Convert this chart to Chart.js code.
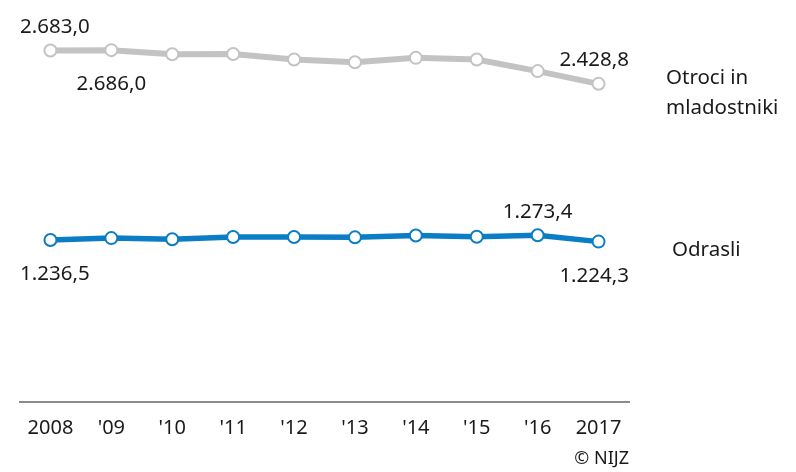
<!DOCTYPE html>
<html>
<head>
<meta charset="utf-8">
<script src="https://cdn.jsdelivr.net/npm/chart.js@4"></script>
<style>
  html, body { margin: 0; padding: 0; background: #fff; }
  #wrap { width: 796px; height: 472px; position: relative; }
</style>
</head>
<body>
<div id="wrap"><canvas id="graph" width="796" height="472"></canvas></div>
<script>
// Data
const years = ['2008', "'09", "'10", "'11", "'12", "'13", "'14", "'15", "'16", '2017'];
const otroci = [2683.0, 2686.0, 2655, 2657, 2615, 2594, 2627, 2615, 2526, 2428.8];
const odrasli = [1236.5, 1251, 1242, 1259, 1259, 1257, 1271, 1262, 1273.4, 1224.3];
const seriesNames = [['Otroci in', 'mladostniki'], ['Odrasli']];
// which points get a value label: [index, 'above' | 'below']
const otrociLabels = [[0, 'above'], [1, 'below'], [9, 'above']];
const odrasliLabels = [[0, 'below'], [8, 'above'], [9, 'below']];

const FONT = '"Noto Sans", sans-serif';
const textColor = '#1a1a1a';

const fmt = v => {
    const s = v.toFixed(1).split('.');
    return s[0].replace(/\B(?=(\d{3})+(?!\d))/g, '.') + ',' + s[1];
};

// draws value labels, series names and the source line
const labelPlugin = {
    id: 'labels',
    afterDatasetsDraw(chart) {
        const ctx = chart.ctx;
        const area = chart.chartArea;
        ctx.save();
        ctx.fillStyle = textColor;
        ctx.font = '20.5px ' + FONT;
        const lists = [otrociLabels, odrasliLabels];
        lists.forEach((list, di) => {
            const meta = chart.getDatasetMeta(di);
            const values = chart.data.datasets[di].data;
            list.forEach(([i, pos]) => {
                const pt = meta.data[i];
                const txt = fmt(values[i]);
                const w = ctx.measureText(txt).width;
                let x = pt.x;
                x = Math.max(x, area.left + w / 2);
                x = Math.min(x, area.right - w / 2);
                ctx.textAlign = 'center';
                if (pos === 'above') {
                    ctx.textBaseline = 'bottom';
                    ctx.fillText(txt, x, pt.y - 13);
                } else {
                    ctx.textBaseline = 'top';
                    ctx.fillText(txt, x, pt.y + 24);
                }
            });
            // series name next to the last point
            const last = meta.data[meta.data.length - 1];
            const lines = seriesNames[di];
            ctx.textAlign = 'left';
            ctx.textBaseline = 'middle';
            const lh = 30;
            const x0 = di === 0 ? area.right + 37 : area.right + 43;
            const y0 = last.y + 9 - (lines.length - 1) * lh / 2;
            lines.forEach((l, k) => ctx.fillText(l, x0, y0 + k * lh));
        });
        // source
        ctx.font = '18px ' + FONT;
        ctx.textAlign = 'right';
        ctx.textBaseline = 'middle';
        ctx.fillText('\u00A9 NIJZ', area.right, 459);
        ctx.restore();
    }
};

const ctx = document.getElementById('graph').getContext('2d');
new Chart(ctx, {
    type: 'line',
    data: {
        labels: years,
        datasets: [{
            label: 'Otroci in mladostniki',
            data: otroci,
            borderColor: '#c3c3c3',
            borderWidth: 6,
            pointBackgroundColor: '#ffffff',
            pointBorderColor: '#c3c3c3',
            pointBorderWidth: 2,
            pointRadius: 6,
            tension: 0
        }, {
            label: 'Odrasli',
            data: odrasli,
            borderColor: '#0b7dc5',
            borderWidth: 5.5,
            pointBackgroundColor: '#ffffff',
            pointBorderColor: '#0b7dc5',
            pointBorderWidth: 2,
            pointRadius: 6,
            tension: 0
        }]
    },
    options: {
        responsive: false,
        animation: false,
        devicePixelRatio: 1,
        layout: { padding: { left: 20, right: 167, top: 9, bottom: 18 } },
        plugins: {
            legend: { display: false },
            tooltip: { enabled: false }
        },
        scales: {
            y: {
                display: false,
                min: 0,
                max: 3000
            },
            x: {
                offset: true,
                grid: { display: false, drawTicks: false },
                border: { display: true, color: '#8c8c8c', width: 2 },
                ticks: {
                    color: textColor,
                    font: { family: FONT, size: 20 },
                    padding: 14,
                    maxRotation: 0,
                    autoSkip: false
                }
            }
        }
    },
    plugins: [labelPlugin]
});
</script>
</body>
</html>
